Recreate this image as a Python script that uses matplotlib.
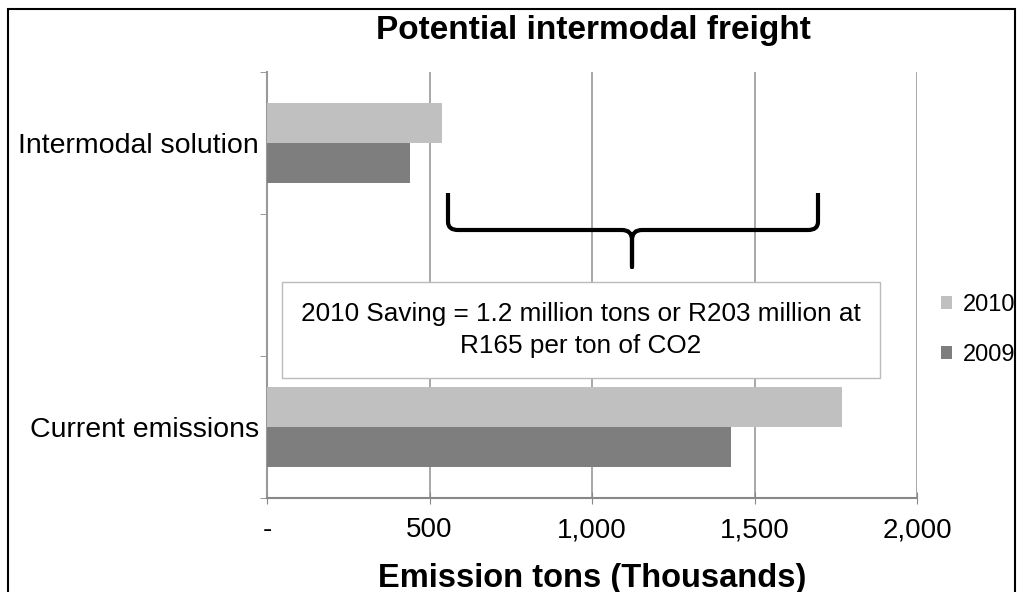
import matplotlib
matplotlib.use("Agg")
import matplotlib.pyplot as plt
from matplotlib.path import Path
from matplotlib.patches import PathPatch, Rectangle
import numpy as np

plt.rcParams['font.family'] = ['Liberation Sans', 'DejaVu Sans']

categories = ["Current emissions", "", "Intermodal solution"]
series_names = ["2010", "2009"]
values_2010 = [1770, 0, 538]
values_2009 = [1428, 0, 440]
x_ticks = [0, 500, 1000, 1500, 2000]
x_tick_labels = ["-", "500", "1,000", "1,500", "2,000"]
note_text = "2010 Saving = 1.2 million tons or R203 million at\nR165 per ton of CO2"

W, H = 1023, 592
fig = plt.figure(figsize=(W / 100, H / 100), dpi=100)
ax = fig.add_axes([267 / W, 1 - 498 / H, (917 - 267) / W, (498 - 72) / H])

col_2010 = "#c0c0c0"
col_2009 = "#7e7e7e"
y = np.arange(len(categories))
bh = 0.28
ax.barh(y + bh / 2, values_2010, height=bh, color=col_2010, label=series_names[0], zorder=3)
ax.barh(y - bh / 2, values_2009, height=bh, color=col_2009, label=series_names[1], zorder=3)

ax.set_xlim(0, 2000)
ax.set_ylim(-0.5, 2.5)
ax.set_xticks(x_ticks)
ax.set_xticklabels(x_tick_labels, fontsize=20)
ax.set_yticks(y)
ax.set_yticklabels(categories, fontsize=20.5)
ax.tick_params(axis='y', length=0, pad=6)
ax.set_yticks([-0.5, 0.5, 1.5, 2.5], minor=True)
ax.tick_params(axis='y', which='minor', length=5, color="#888888", direction='out')
ax.tick_params(axis='x', length=8, direction='inout', color="#888888", pad=10)
ax.grid(axis='x', color="#999999", linewidth=1.2, zorder=0)
for s in ['top', 'right']:
    ax.spines[s].set_visible(False)
ax.spines['left'].set_color("#999999")
ax.spines['bottom'].set_color("#888888")
ax.spines['left'].set_linewidth(1.5)
ax.spines['bottom'].set_linewidth(1.5)

ax.set_xlabel("Emission tons (Thousands)", fontsize=23.5, fontweight='bold', labelpad=14)
fig.text(593 / W, 1 - 30 / H, "Potential intermodal freight", fontsize=24,
         fontweight='bold', ha='center', va='center')

# note box
fig.patches.append(Rectangle((282 / W, 1 - 378 / H), (880 - 282) / W, (378 - 282) / H,
                             transform=fig.transFigure, facecolor='white',
                             edgecolor='#bbbbbb', linewidth=1, zorder=5))
fig.text(581 / W, 1 - 330 / H, note_text, fontsize=18.8, ha='center', va='center',
         linespacing=1.4, zorder=6)

# brace
def P(x, yy):
    return (x / W, 1 - yy / H)

verts = [P(448, 193), P(448, 222), P(448, 230), P(458, 230), P(622, 230), P(632, 230),
         P(632, 240), P(632, 267), P(632, 240), P(632, 230), P(642, 230), P(808, 230),
         P(818, 230), P(818, 222), P(818, 193)]
codes = [Path.MOVETO, Path.LINETO, Path.CURVE3, Path.CURVE3, Path.LINETO, Path.CURVE3,
         Path.CURVE3, Path.LINETO, Path.LINETO, Path.CURVE3, Path.CURVE3, Path.LINETO,
         Path.CURVE3, Path.CURVE3, Path.LINETO]
fig.patches.append(PathPatch(Path(verts, codes), transform=fig.transFigure,
                             facecolor='none', edgecolor='black', linewidth=3,
                             capstyle='butt', joinstyle='round', zorder=7))

# legend
fig.legend(handles=ax.containers[0:1] + ax.containers[1:2], labels=series_names,
           loc='center left', bbox_to_anchor=(920 / W, 1 - 330 / H), frameon=False,
           fontsize=17, handlelength=0.45, handleheight=0.45, handletextpad=0.45,
           labelspacing=1.2)

# outer border
fig.patches.append(Rectangle((8 / W, -0.01), (1015 - 8) / W, 1 - 9 / H + 0.01,
                             transform=fig.transFigure, facecolor='none',
                             edgecolor='black', linewidth=1.5))

fig.savefig("out.png", dpi=100)
